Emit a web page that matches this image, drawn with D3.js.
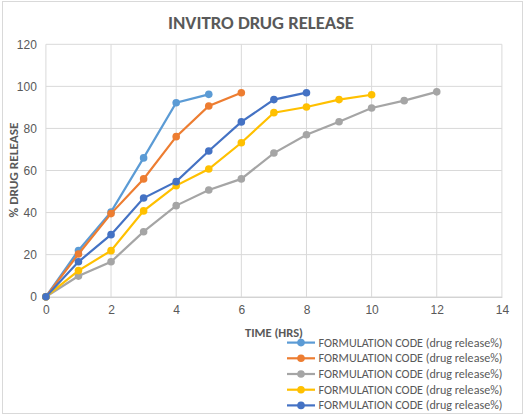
<!DOCTYPE html>
<html>
<head>
<meta charset="utf-8">
<script src="https://cdn.jsdelivr.net/npm/d3@7"></script>
<style>
  body { margin: 0; background: #fff; }
  svg { font-family: Calibri, Carlito, "Open Sans", sans-serif; }
</style>
</head>
<body>
<svg width="528" height="418"></svg>
<script>
// chart values
var hours = [0, 1, 2, 3, 4, 5, 6, 7, 8, 9, 10, 11, 12];
var seriesNames = [
  "FORMULATION CODE (drug release%)",
  "FORMULATION CODE (drug release%)",
  "FORMULATION CODE (drug release%)",
  "FORMULATION CODE (drug release%)",
  "FORMULATION CODE (drug release%)"
];
var seriesColors = ["#5b9bd5", "#ed7d31", "#a5a5a5", "#ffc000", "#4472c4"];
var release1 = [0, 22, 40.3, 66, 92.2, 96.2];
var release2 = [0, 20.3, 39.5, 56, 76.1, 90.7, 97];
var release3 = [0, 9.8, 16.6, 30.9, 43.3, 50.7, 56, 68.3, 77, 83.2, 89.7, 93.2, 97.4];
var release4 = [0, 12.4, 21.9, 40.8, 52.8, 60.7, 73.2, 87.5, 90.2, 93.7, 96];
var release5 = [0, 16.6, 29.5, 46.9, 54.7, 69.3, 83.1, 93.7, 97];
var allReleases = [release1, release2, release3, release4, release5];
var xTicks = [0, 2, 4, 6, 8, 10, 12, 14];
var yTicks = [0, 20, 40, 60, 80, 100, 120];

var svg = d3.select("svg");
var textColor = "#595959";
var gridColor = "#d9d9d9";

// outer chart border
svg.append("rect")
    .attr("x", 2.5).attr("y", 1.5)
    .attr("width", 520).attr("height", 412)
    .attr("fill", "none")
    .attr("stroke", gridColor);

var x = d3.scaleLinear().domain([0, 14]).range([45.9, 501.9]);
var y = d3.scaleLinear().domain([0, 120]).range([296.7, 44.3]);

// gridlines
svg.append("g")
    .selectAll("line.h")
    .data(yTicks.slice(1))
    .enter().append("line")
    .attr("x1", x(0)).attr("x2", x(14))
    .attr("y1", function (d) { return y(d); })
    .attr("y2", function (d) { return y(d); })
    .attr("stroke", gridColor);

svg.append("g")
    .selectAll("line.v")
    .data(xTicks)
    .enter().append("line")
    .attr("y1", y(0)).attr("y2", y(120))
    .attr("x1", function (d) { return x(d); })
    .attr("x2", function (d) { return x(d); })
    .attr("stroke", gridColor);

// x axis
var xAxis = svg.append("g")
    .attr("transform", "translate(0," + y(0) + ")")
    .call(d3.axisBottom(x).tickValues(xTicks).tickSize(0).tickPadding(9));
xAxis.select(".domain").attr("stroke", "#bfbfbf");
xAxis.selectAll("text").attr("fill", textColor).style("font-size", "12px");

// y axis
var yAxis = svg.append("g")
    .attr("transform", "translate(" + x(0) + ",0)")
    .call(d3.axisLeft(y).tickValues(yTicks).tickSize(0).tickPadding(9));
yAxis.select(".domain").remove();
yAxis.selectAll("text").attr("fill", textColor).style("font-size", "12px");

// titles
svg.append("text")
    .attr("x", 261).attr("y", 29)
    .attr("text-anchor", "middle")
    .attr("fill", textColor)
    .style("font-size", "17px").style("font-weight", "bold")
    .attr("textLength", 186).attr("lengthAdjust", "spacingAndGlyphs")
    .text("INVITRO DRUG RELEASE");

svg.append("text")
    .attr("transform", "translate(18,170) rotate(-90)")
    .attr("text-anchor", "middle")
    .attr("fill", textColor)
    .style("font-size", "11.5px").style("font-weight", "bold")
    .attr("textLength", 95).attr("lengthAdjust", "spacingAndGlyphs")
    .text("% DRUG  RELEASE");

svg.append("text")
    .attr("x", 245).attr("y", 337)
    .attr("fill", textColor)
    .style("font-size", "11.5px").style("font-weight", "bold")
    .attr("textLength", 58).attr("lengthAdjust", "spacingAndGlyphs")
    .text("TIME  (HRS)");

// series
var line = d3.line()
    .x(function (d, i) { return x(hours[i]); })
    .y(function (d) { return y(d); });

allReleases.forEach(function (values, s) {
    var g = svg.append("g");
    g.append("path")
        .datum(values)
        .attr("d", line)
        .attr("fill", "none")
        .attr("stroke", seriesColors[s])
        .attr("stroke-width", 2.2);
    g.selectAll("circle")
        .data(values)
        .enter().append("circle")
        .attr("cx", function (d, i) { return x(hours[i]); })
        .attr("cy", function (d) { return y(d); })
        .attr("r", 3.8)
        .attr("fill", seriesColors[s]);
});

// legend
var legend = svg.append("g");
seriesNames.forEach(function (name, i) {
    var ly = 342.6 + i * 15.7;
    legend.append("line")
        .attr("x1", 287).attr("x2", 315)
        .attr("y1", ly).attr("y2", ly)
        .attr("stroke", seriesColors[i])
        .attr("stroke-width", 2.2);
    legend.append("circle")
        .attr("cx", 301).attr("cy", ly).attr("r", 3.8)
        .attr("fill", seriesColors[i]);
    legend.append("text")
        .attr("x", 318.5).attr("y", ly + 4)
        .attr("fill", textColor)
        .style("font-size", "12px")
        .attr("textLength", 184).attr("lengthAdjust", "spacingAndGlyphs")
        .text(name);
});
</script>
</body>
</html>
